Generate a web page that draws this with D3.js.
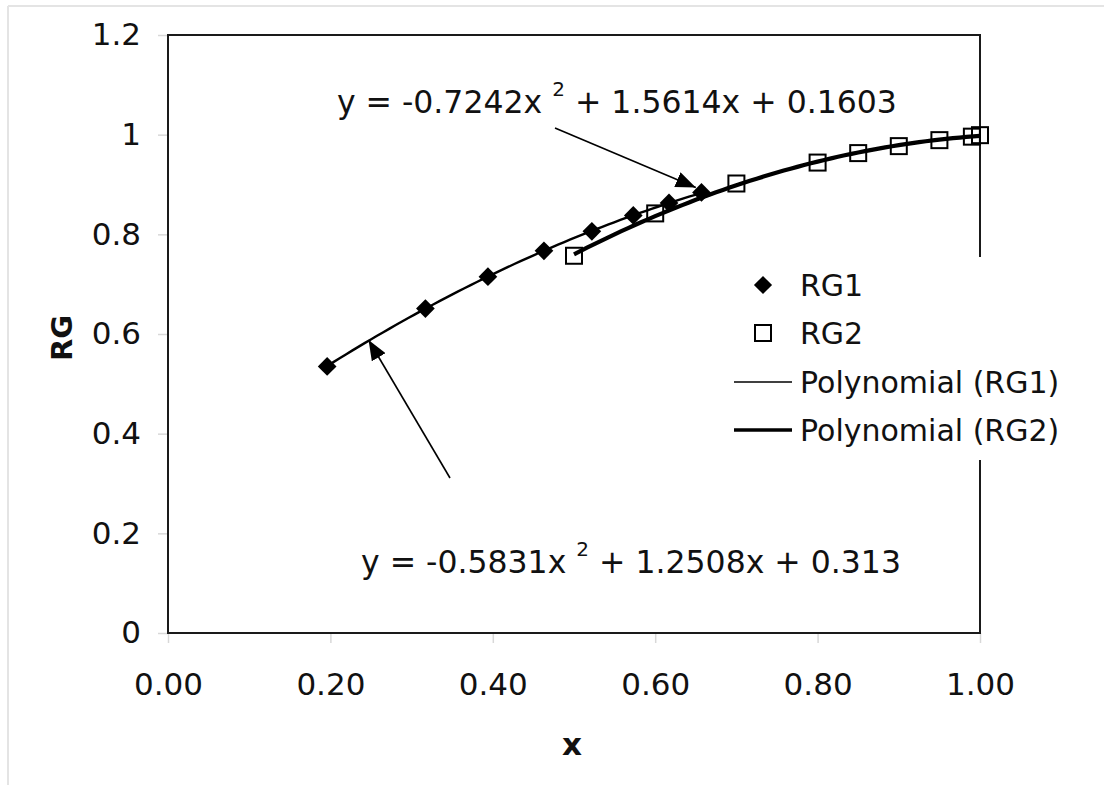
<!DOCTYPE html>
<html>
<head>
<meta charset="utf-8">
<script src="https://cdn.jsdelivr.net/npm/d3@7"></script>
<style>
  body { margin: 0; background: #fff; }
  text { font-family: "DejaVu Sans", sans-serif; fill: #111; }
</style>
</head>
<body>
<svg></svg>
<script>
// values
const rg1X = [0.196, 0.317, 0.394, 0.463, 0.522, 0.573, 0.617, 0.657];
const rg1Y = [0.535, 0.651, 0.715, 0.767, 0.806, 0.838, 0.863, 0.884];
const rg2X = [0.5, 0.6, 0.7, 0.8, 0.85, 0.9, 0.95, 0.99, 1.0];
const rg2Y = [0.757, 0.842, 0.902, 0.944, 0.963, 0.977, 0.989, 0.996, 0.999];
// trendline coefficients as printed on the chart (a, b, c for ax^2 + bx + c)
const rg1Coef = [-0.5831, 1.2508, 0.313];
const rg2Coef = [-0.7242, 1.5614, 0.1603];
const xTicks = [0, 0.2, 0.4, 0.6, 0.8, 1.0];
const yTicks = [0, 0.2, 0.4, 0.6, 0.8, 1, 1.2];
const legendLabels = ["RG1", "RG2", "Polynomial (RG1)", "Polynomial (RG2)"];

const size = { w: 1104, h: 785 };
const plot = { l: 168, r: 980, t: 35, b: 633 };

const svg = d3.select("svg").attr("width", size.w).attr("height", size.h);

const xScale = d3.scaleLinear().domain([0, 1]).range([plot.l, plot.r]);
const yScale = d3.scaleLinear().domain([0, 1.2]).range([plot.b, plot.t]);

// faint outer frame of the picture
svg.append("line").attr("x1", 8).attr("x2", size.w).attr("y1", 6).attr("y2", 6)
  .attr("stroke", "#e4e4e4").attr("stroke-width", 2);
svg.append("line").attr("x1", 8).attr("x2", 8).attr("y1", 6).attr("y2", size.h)
  .attr("stroke", "#e4e4e4").attr("stroke-width", 2);

const xAxis = d3.axisBottom(xScale).tickValues(xTicks).tickSize(10).tickPadding(30)
  .tickFormat(d3.format(".2f"));
const yAxis = d3.axisLeft(yScale).tickValues(yTicks).tickSize(10).tickPadding(17)
  .tickFormat((d) => String(d));

const xAxisG = svg.append("g").attr("transform", `translate(0, ${plot.b})`).call(xAxis);
const yAxisG = svg.append("g").attr("transform", `translate(${plot.l}, 0)`).call(yAxis);
[xAxisG, yAxisG].forEach((g) => {
  g.select(".domain").remove();
  g.selectAll(".tick line").attr("stroke", "#d8d8d8").attr("stroke-width", 1.5);
  g.selectAll(".tick text").attr("font-size", 31).attr("font-family", "DejaVu Sans")
    .attr("fill", "#111");
});

// plot frame
svg.append("rect")
  .attr("x", plot.l).attr("y", plot.t)
  .attr("width", plot.r - plot.l).attr("height", plot.b - plot.t)
  .attr("fill", "none").attr("stroke", "#1a1a1a").attr("stroke-width", 2);

// axis titles
svg.append("text")
  .attr("transform", "translate(72, 338) rotate(-90)")
  .attr("text-anchor", "middle").attr("font-size", 29).attr("font-weight", "bold")
  .text("RG");
svg.append("text")
  .attr("x", 572).attr("y", 755)
  .attr("text-anchor", "middle").attr("font-size", 31).attr("font-weight", "bold")
  .text("x");

// trendlines
function trend(coef, xs) {
  const [lo, hi] = d3.extent(xs);
  return d3.range(0, 61).map((i) => {
    const x = lo + ((hi - lo) * i) / 60;
    return [x, coef[0] * x * x + coef[1] * x + coef[2]];
  });
}
const line = d3.line().x((d) => xScale(d[0])).y((d) => yScale(d[1]));

svg.append("path").datum(trend(rg1Coef, rg1X)).attr("d", line)
  .attr("fill", "none").attr("stroke", "#000").attr("stroke-width", 2.4);
svg.append("path").datum(trend(rg2Coef, rg2X)).attr("d", line)
  .attr("fill", "none").attr("stroke", "#000").attr("stroke-width", 4.2);

// markers
const diamond = d3.symbol().type(d3.symbolSquare).size(175);
svg.append("g").selectAll("path")
  .data(rg1X.map((x, i) => [x, rg1Y[i]]))
  .join("path")
  .attr("d", diamond)
  .attr("transform", (d) => `translate(${xScale(d[0])}, ${yScale(d[1])}) rotate(45)`)
  .attr("fill", "#000");

svg.append("g").selectAll("rect")
  .data(rg2X.map((x, i) => [x, rg2Y[i]]))
  .join("rect")
  .attr("x", (d) => xScale(d[0]) - 8).attr("y", (d) => yScale(d[1]) - 8)
  .attr("width", 16).attr("height", 16)
  .attr("fill", "none").attr("stroke", "#000").attr("stroke-width", 2);

// arrows and equations
svg.append("defs").append("marker")
  .attr("id", "head")
  .attr("markerUnits", "userSpaceOnUse")
  .attr("markerWidth", 22).attr("markerHeight", 16)
  .attr("refX", 20).attr("refY", 8)
  .attr("orient", "auto")
  .append("path").attr("d", "M0,0 L20,8 L0,16 Z").attr("fill", "#000");

const arrows = [
  { from: [0.4766, 1.0134], to: [0.650, 0.894] },
  { from: [0.3473, 0.311], to: [0.247, 0.588] }
];
svg.append("g").selectAll("line")
  .data(arrows)
  .join("line")
  .attr("x1", (d) => xScale(d.from[0])).attr("y1", (d) => yScale(d.from[1]))
  .attr("x2", (d) => xScale(d.to[0])).attr("y2", (d) => yScale(d.to[1]))
  .attr("stroke", "#000").attr("stroke-width", 1.6)
  .attr("marker-end", "url(#head)");

const equations = [
  { at: [0.208, 1.043], head: "y = -0.7242x ", tail: " + 1.5614x + 0.1603" },
  { at: [0.2377, 0.121], head: "y = -0.5831x ", tail: " + 1.2508x + 0.313" }
];
equations.forEach((e) => {
  const t = svg.append("text")
    .attr("x", xScale(e.at[0])).attr("y", yScale(e.at[1]))
    .attr("font-size", 31.5).attr("xml:space", "preserve");
  t.append("tspan").text(e.head);
  t.append("tspan").attr("dy", -17).attr("font-size", 20).text("2");
  t.append("tspan").attr("dy", 17).text(e.tail);
});

// legend
const legendG = svg.append("g");
legendG.append("rect")
  .attr("x", 720).attr("y", 257).attr("width", 355).attr("height", 203)
  .attr("fill", "#fff");
const rowY = [285, 333, 382, 430];
legendLabels.forEach((label, i) => {
  const y = rowY[i];
  if (i === 0) {
    legendG.append("path").attr("d", d3.symbol().type(d3.symbolSquare).size(165))
      .attr("transform", `translate(763, ${y}) rotate(45)`).attr("fill", "#000");
  } else if (i === 1) {
    legendG.append("rect").attr("x", 755).attr("y", y - 8)
      .attr("width", 16).attr("height", 16)
      .attr("fill", "none").attr("stroke", "#000").attr("stroke-width", 2);
  } else {
    legendG.append("line").attr("x1", 734).attr("x2", 792).attr("y1", y).attr("y2", y)
      .attr("stroke", "#000").attr("stroke-width", i === 2 ? 1.5 : 3.5);
  }
  legendG.append("text")
    .attr("x", 800).attr("y", y + 10.5)
    .attr("font-size", 30)
    .text(label);
});
</script>
</body>
</html>
